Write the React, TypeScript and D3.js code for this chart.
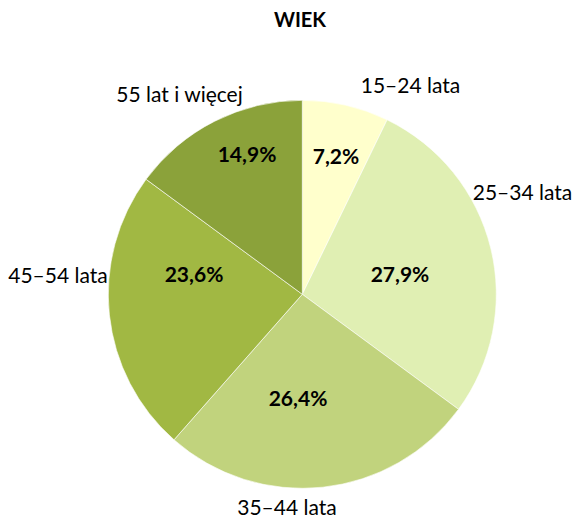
import React from "react";
import * as d3 from "d3";

const categories = ["15–24 lata", "25–34 lata", "35–44 lata", "45–54 lata", "55 lat i więcej"];
const values = [7.2, 27.9, 26.4, 23.6, 14.9];
const percentLabels = ["7,2%", "27,9%", "26,4%", "23,6%", "14,9%"];
const colors = ["#FFFFCC", "#E0EFB3", "#C1D37D", "#A1B843", "#8BA23A"];
const title = "WIEK";

// layout offsets (from pie centre) for label placement
const pctOffsets: [number, number][] = [
  [33.7, -130.3],
  [97.7, -12.3],
  [-4.3, 111.7],
  [-108.3, -12.3],
  [-55.3, -132.3],
];
const catOffsets: [number, number][] = [
  [108.2, -201.3],
  [220.2, -94.3],
  [-15.3, 220.5],
  [-244.3, -11.3],
  [-122.8, -192.3],
];

export default function App() {
  const W = 574;
  const H = 518;
  const cx = 302.3;
  const cy = 294.3;
  const R = 194;
  const pie = d3.pie<number>().sort(null).value((d) => d);
  const arcs = pie(values);
  const arc = d3.arc<d3.PieArcDatum<number>>().innerRadius(0).outerRadius(R);
  const font = "Lato, 'Open Sans', sans-serif";
  return (
    <svg width={W} height={H} style={{ position: "absolute", left: 0, top: 0, background: "#fff" }}>
      <text x={300} y={27} textAnchor="middle" fontFamily={font} fontWeight="bold" fontSize={20} fill="#000">
        {title}
      </text>
      <g transform={`translate(${cx},${cy})`}>
        {arcs.map((a, i) => (
          <path key={i} d={arc(a) || ""} fill={colors[i]} stroke="#ffffff" strokeWidth={0.6} />
        ))}
        {arcs.map((a, i) => (
          <text
            key={"p" + i}
            x={pctOffsets[i][0]}
            y={pctOffsets[i][1]}
            textAnchor="middle"
            fontFamily={font}
            fontWeight="bold"
            fontSize={21}
            fill="#000"
          >
            {percentLabels[i]}
          </text>
        ))}
        {categories.map((c, i) => (
          <text
            key={"c" + i}
            x={catOffsets[i][0]}
            y={catOffsets[i][1]}
            textAnchor="middle"
            fontFamily={font}
            fontSize={21}
            fill="#000"
          >
            {c}
          </text>
        ))}
      </g>
    </svg>
  );
}
